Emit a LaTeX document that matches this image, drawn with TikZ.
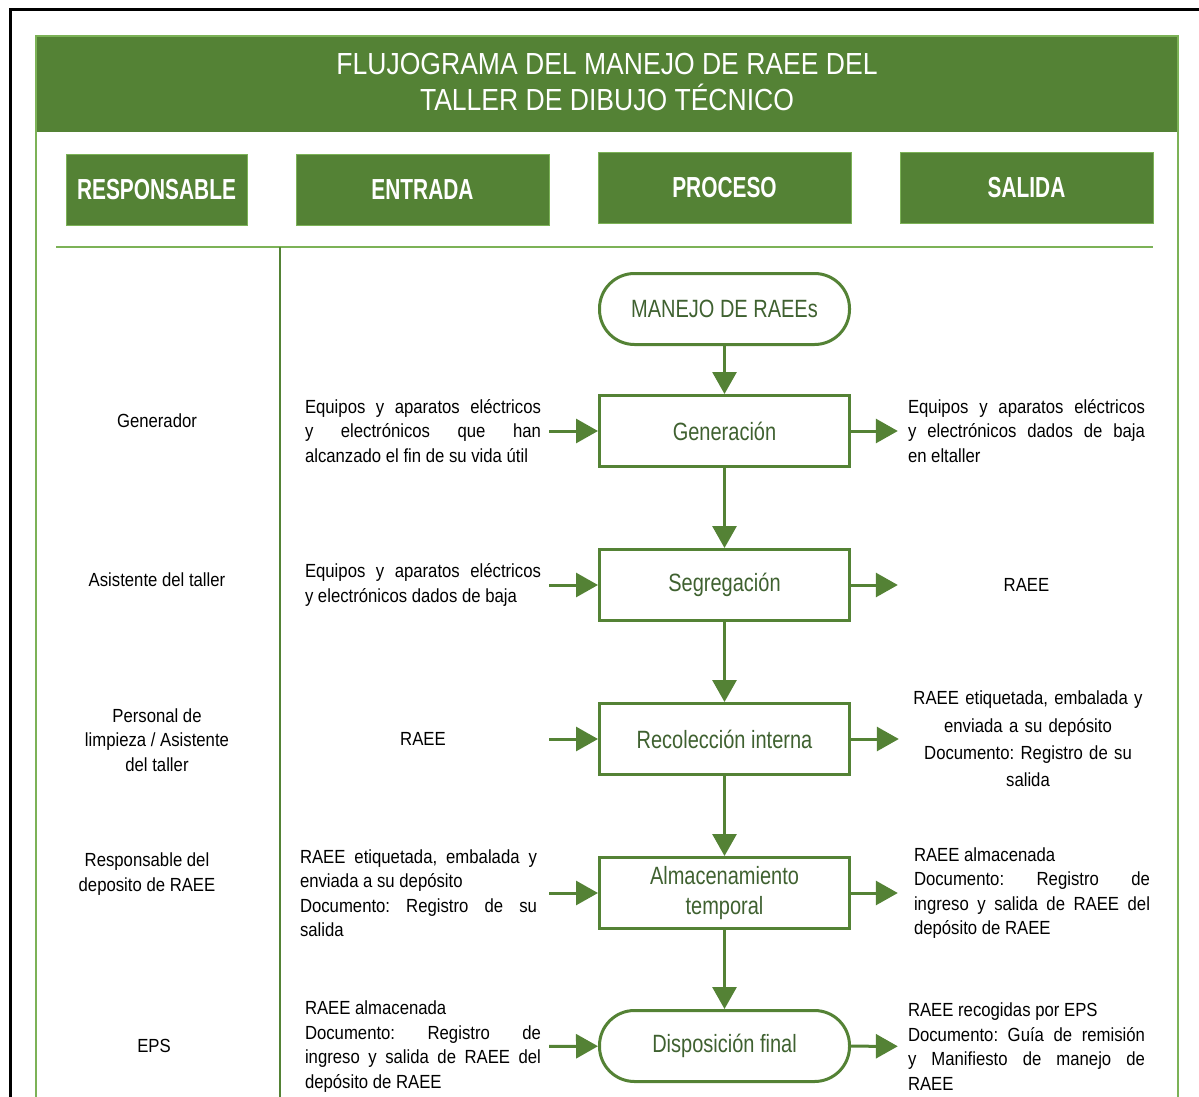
\documentclass[tikz,border=0pt]{standalone}
\usepackage{fontspec}
\setmainfont{Liberation Sans}[FakeStretch=0.88]
\newfontfamily\procfont{Liberation Sans}[FakeStretch=0.8]
\newfontfamily\headfont{Liberation Sans}[FakeStretch=0.72]
\newfontfamily\titlefont{Liberation Sans}[FakeStretch=0.87]
\usepackage{tikz}
\usetikzlibrary{arrows.meta,positioning}
\definecolor{hdgreen}{HTML}{548235}
\definecolor{lightgreen}{HTML}{7CB257}
\definecolor{txtgreen}{HTML}{3F6130}
\hyphenpenalty=10000
\exhyphenpenalty=10000
\tolerance=10000
\frenchspacing

\begin{document}
\begin{tikzpicture}
  [
    x=1pt, y=-1pt,
    Head/.style={fill=hdgreen, draw=lightgreen, line width=0.8pt, text=white, inner sep=0pt,
      font=\headfont\bfseries\fontsize{29}{30}\selectfont, minimum height=71pt},
    Proc/.style={rectangle, draw=hdgreen, line width=3pt, minimum width=250pt, minimum height=71pt,
      text=txtgreen, align=center, font=\procfont\fontsize{25}{30}\selectfont},
    Term/.style={Proc, rounded corners=35pt},
    Txt/.style={inner sep=0pt, text width=236pt, align=justify, font=\fontsize{19}{24.5}\selectfont},
    Resp/.style={inner sep=0pt, align=center, font=\fontsize{19}{24.5}\selectfont},
    Flow/.style={draw=hdgreen, line width=3pt, -{Triangle[length=22pt, width=24pt]}}
  ]
  \useasboundingbox (0, 0) rectangle (1199, 1097);
  % Frame
  \draw[line width=3pt] (10, 1097) -- (10, 10) -- (1199, 10);
  \fill[hdgreen] (36, 36) rectangle (1178, 132);
  \draw[lightgreen, line width=1.5pt] (36, 1097) -- (36, 36) -- (1178, 36) -- (1178, 1097);
  \draw[lightgreen, line width=2pt] (56, 247) -- (1153, 247);
  \draw[hdgreen, line width=2.5pt] (280, 247) -- (280, 1097);
  \node[text=white, align=center, font=\titlefont\fontsize{30.5}{36}\selectfont] (title) at(607, 82)
    {FLUJOGRAMA DEL MANEJO DE RAEE DEL\\TALLER DE DIBUJO TÉCNICO};
  % Column heads
  \node[Head, minimum width=181pt] (hresp) at(156.5, 190) {RESPONSABLE};
  \node[Head, minimum width=253pt] (hent) at(422.5, 190) {ENTRADA};
  \node[Head, minimum width=253pt] (hproc) at(724.5, 187.5) {PROCESO};
  \node[Head, minimum width=253pt] (hsal) at(1026.5, 187.5) {SALIDA};
  % Process
  \node[Term] (inicio) at(724.5, 309) {MANEJO DE RAEEs};
  \node[Proc] (gen) at(724.5, 431) {Generación};
  \node[Proc] (seg) at(724.5, 585) {Segregación};
  \node[Proc] (rec) at(724.5, 739) {Recolección interna};
  \node[Proc] (alm) at(724.5, 893) {Almacenamiento\\temporal};
  \node[Term] (disp) at(724.5, 1046) {Disposición final};
  % Responsable
  \node[Resp] (rgen) at(157, 421) {Generador};
  \node[Resp] (rseg) at(157, 580) {Asistente del taller};
  \node[Resp] (rrec) at(157, 740) {Personal de\\limpieza / Asistente\\del taller};
  \node[Resp] (ralm) at(147, 874) {Responsable del\\deposito de RAEE};
  \node[Resp] (rdisp) at(154, 1046) {EPS};
  % Entrada
  \node[Txt] (egen) at(423, 431) {Equipos y aparatos eléctricos\linebreak
    y electrónicos que han\linebreak \mbox{alcanzado el fin de su vida útil}};
  \node[Txt] (eseg) at(423, 585) {Equipos y aparatos eléctricos\linebreak
    y electrónicos dados de baja};
  \node[Txt, align=center] (erec) at(423, 739) {RAEE};
  \node[Txt, text width=237pt] (ealm) at(418.5, 893) {RAEE etiquetada, embalada y\linebreak
    enviada a su depósito\\ Documento: Registro de su\linebreak salida};
  \node[Txt] (edisp) at(423, 1046.5) {RAEE almacenada\\ Documento: Registro de\linebreak
    ingreso y salida de RAEE del\linebreak depósito de RAEE};
  % Salida
  \node[Txt, text width=237pt] (sgen) at(1026.5, 431) {Equipos y aparatos eléctricos\linebreak
    y electrónicos dados de baja\linebreak en eltaller};
  \node[Txt, text width=237pt, align=center] (sseg) at(1026.5, 585) {RAEE};
  \node[Txt, text width=250pt, align=center, font=\fontsize{19}{27.3}\selectfont] (srec) at(1028, 739)
    {RAEE etiquetada, embalada y\\ enviada a su depósito\\ Documento: Registro de su\\ salida};
  \node[Txt] (salm) at(1032, 893) {RAEE almacenada\\ Documento: Registro de\linebreak
    ingreso y salida de RAEE del\linebreak depósito de RAEE};
  \node[Txt, text width=237pt] (sdisp) at(1026.5, 1046.5) {RAEE recogidas por EPS\\
    Documento: Guía de remisión\linebreak y Manifiesto de manejo de\linebreak RAEE};
  % Lines
  \path [Flow] (inicio) -- (gen);
  \path [Flow] (gen) -- (seg);
  \path [Flow] (seg) -- (rec);
  \path [Flow] (rec) -- (alm);
  \path [Flow] (alm) -- (disp);
  \path [Flow, shorten <=8pt] (egen) -- (gen);
  \path [Flow, shorten <=8pt] (eseg) -- (seg);
  \path [Flow, shorten <=8pt] (erec) -- (rec);
  \path [Flow, shorten <=12pt] (ealm) -- (alm);
  \path [Flow, shorten <=8pt] (edisp) -- (disp);
  \path [Flow, shorten >=10pt] (gen) -- (sgen);
  \path [Flow, shorten >=10pt] (seg) -- (sseg);
  \path [Flow, shorten >=4pt] (rec) -- (srec);
  \path [Flow, shorten >=16pt] (alm) -- (salm);
  \path [Flow, shorten >=10pt] (disp) -- (sdisp);
\end{tikzpicture}
\end{document}
